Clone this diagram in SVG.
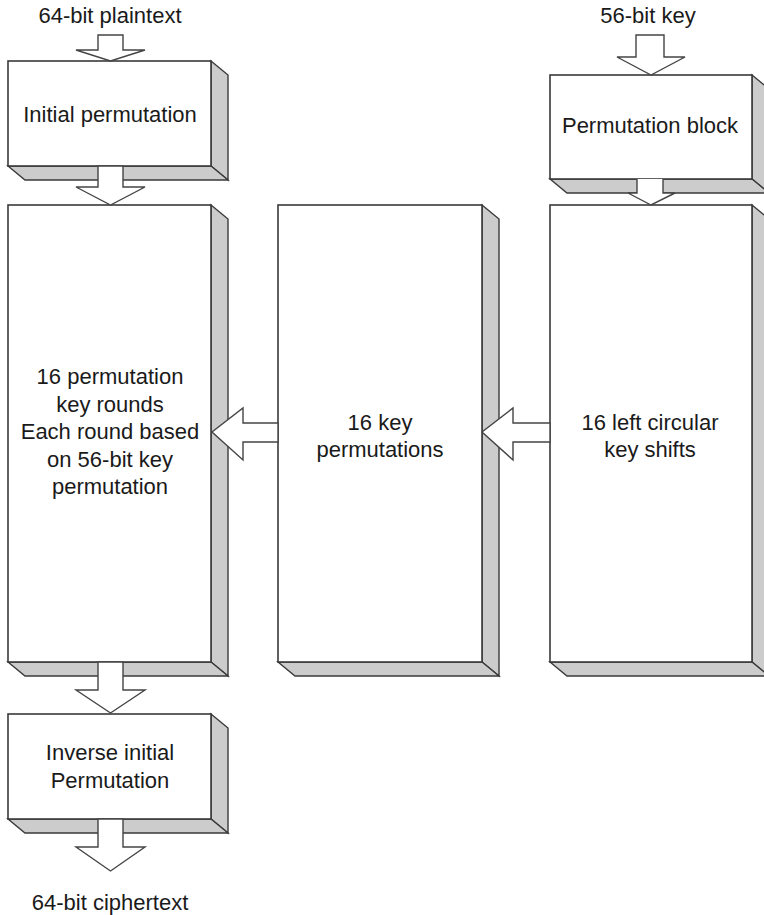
<svg xmlns="http://www.w3.org/2000/svg" width="764" height="915" viewBox="0 0 764 915">
<style>
.front{fill:#ffffff;stroke:#3a3a3a;stroke-width:1.6}
.face{fill:#cccccc;stroke:#3a3a3a;stroke-width:1.4;stroke-linejoin:miter}
.arr{fill:#ffffff;stroke:#444444;stroke-width:1.4;stroke-linejoin:miter}
text{font-family:"Liberation Sans",Arial,Helvetica,sans-serif;font-size:22px;fill:#1a1a1a;text-anchor:middle}
</style>
<rect width="764" height="915" fill="#ffffff"/>
<text x="110" y="23">64-bit plaintext</text>
<text x="648" y="23">56-bit key</text>
<text x="110" y="910">64-bit ciphertext</text>

<g id="initial-permutation">
<polygon class="face" points="211,61 228,75 228,180 211,166"/>
<polygon class="face" points="8,166 211,166 228,180 25,180"/>
<rect class="front" x="8" y="61" width="203" height="105"/>
<text x="110" y="122">Initial permutation</text>
</g>

<g id="rounds">
<polygon class="face" points="211,205 228,219 228,676 211,662"/>
<polygon class="face" points="8,662 211,662 228,676 25,676"/>
<rect class="front" x="8" y="205" width="203" height="457"/>
<text x="110" y="384">16 permutation</text>
<text x="110" y="411.5">key rounds</text>
<text x="110" y="439">Each round based</text>
<text x="110" y="466.5">on 56-bit key</text>
<text x="110" y="494">permutation</text>
</g>

<g id="inverse-permutation">
<polygon class="face" points="211,714 228,728 228,833 211,819"/>
<polygon class="face" points="8,819 211,819 228,833 25,833"/>
<rect class="front" x="8" y="714" width="203" height="105"/>
<text x="110" y="760">Inverse initial</text>
<text x="110" y="788">Permutation</text>
</g>

<g id="permutation-block">
<polygon class="face" points="752,75 769,89 769,193 752,179"/>
<polygon class="face" points="550,179 752,179 769,193 567,193"/>
<rect class="front" x="550" y="75" width="202" height="104"/>
<text x="650" y="133">Permutation block</text>
</g>

<g id="key-permutations">
<polygon class="face" points="482,205 499,219 499,676 482,662"/>
<polygon class="face" points="278,662 482,662 499,676 295,676"/>
<rect class="front" x="278" y="205" width="204" height="457"/>
<text x="380" y="430">16 key</text>
<text x="380" y="457">permutations</text>
</g>

<g id="key-shifts">
<polygon class="face" points="752,205 769,219 769,676 752,662"/>
<polygon class="face" points="550,662 752,662 769,676 567,676"/>
<rect class="front" x="550" y="205" width="202" height="457"/>
<text x="650" y="430">16 left circular</text>
<text x="650" y="457">key shifts</text>
</g>

<g id="connectors">
<polygon class="arr" points="98,35 123,35 123,50 145,50 110.5,61 76,50 98,50"/>
<polygon class="arr" points="98,166 123,166 123,187 145,187 110.5,205 76,187 98,187"/>
<polygon class="arr" points="98,662 123,662 123,690 145,690 110.5,713 76,690 98,690"/>
<polygon class="arr" points="98,819 123,819 123,847 145,847 110.5,871 76,847 98,847"/>
<polygon class="arr" points="636,35 664,35 664,57 685,57 651,75 617,57 636,57"/>
<polyline class="arr" points="637,179 637,193 628,193 651,205 675,193 663,193 663,179"/>
<polygon class="arr" points="278,423 243,423 243,408 212,432 243,460 243,442 278,442"/>
<polygon class="arr" points="550,423 513,423 513,408 482,432 513,460 513,442 550,442"/>
</g>
</svg>
